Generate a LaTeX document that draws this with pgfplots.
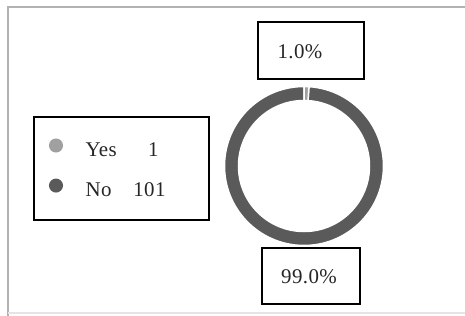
\documentclass[border=0pt]{standalone}
\usepackage{fontspec}
\setmainfont{Liberation Serif}[LetterSpace=2]
\usepackage{pgfplots}
\usepackage{pgfplotstable}
\pgfplotsset{compat=1.18}
\definecolor{nocol}{HTML}{5A5A5A}
\definecolor{yescol}{HTML}{A0A0A0}
\pgfplotstableread{
label value
Yes 1
No 101
}\pietable
\begin{document}
\begin{tikzpicture}
\pgfplotstablegetelem{0}{value}\of\pietable
\pgfmathsetmacro\vyes{\pgfplotsretval}
\pgfplotstablegetelem{1}{value}\of\pietable
\pgfmathsetmacro\vno{\pgfplotsretval}
\pgfmathsetmacro\ayes{360*\vyes/(\vyes+\vno)}
\pgfmathsetmacro\eyes{90-\ayes}
\def\cx{304}\def\cy{150}\def\ro{79.5}\def\ri{65.5}
\begin{axis}[
  x=1bp, y=1bp, xmin=0, xmax=465, ymin=0, ymax=316,
  hide axis, clip=false, at={(0,0)}, anchor=origin,
  legend style={at={(axis cs:33,200)}, anchor=north west,
    draw=black, line width=2bp, fill=white,
    inner xsep=15bp, inner ysep=21.5bp, row sep=20.3bp,
    nodes={inner sep=0pt, text=black!85},
    font=\fontsize{21}{23}\selectfont,
    /tikz/every odd column/.append style={column sep=22.5bp}},
  legend cell align=left,
]
% frame
\draw[gray!60, line width=1.5bp] (axis cs:8,0) -- (axis cs:8,309) -- (axis cs:465,309);
\draw[gray!20, line width=1.5bp] (axis cs:8,3) -- (axis cs:465,3);
% donut
\filldraw[fill=nocol, draw=white, line width=1.5bp]
  (axis cs:{\cx+\ro*cos(\eyes)},{\cy+\ro*sin(\eyes)})
  arc[start angle=\eyes, end angle=-270, radius=\ro bp]
  -- (axis cs:{\cx+\ri*cos(-270)},{\cy+\ri*sin(-270)})
  arc[start angle=-270, end angle=\eyes, radius=\ri bp] -- cycle;
\filldraw[fill=yescol, draw=white, line width=1.5bp]
  (axis cs:{\cx+\ro*cos(90)},{\cy+\ro*sin(90)})
  arc[start angle=90, end angle=\eyes, radius=\ro bp]
  -- (axis cs:{\cx+\ri*cos(\eyes)},{\cy+\ri*sin(\eyes)})
  arc[start angle=\eyes, end angle=90, radius=\ri bp] -- cycle;
% labels
\draw[black, line width=2bp, fill=white] (axis cs:258,237) rectangle (axis cs:364,294);
\node[font=\fontsize{21}{23}\selectfont, text=black!85] at (axis cs:300,264) {1.0\%};
\draw[black, line width=2bp, fill=white] (axis cs:262,12) rectangle (axis cs:360,68);
\node[font=\fontsize{21}{23}\selectfont, text=black!85] at (axis cs:309,39) {99.0\%};
% legend
\addlegendimage{legend image code/.code={\fill[yescol] (0bp,4.5bp) circle (6bp);}}
\addlegendentry{\makebox[108.5bp][l]{\makebox[80bp][l]{Yes\hfill 1\hspace{7bp}}\rule[-3bp]{0pt}{18bp}}}
\addlegendimage{legend image code/.code={\fill[nocol] (0bp,4.5bp) circle (6bp);}}
\addlegendentry{\makebox[108.5bp][l]{\makebox[80bp][l]{No\hfill 101}\rule[-3bp]{0pt}{18bp}}}
\end{axis}
\pgfresetboundingbox
\path[use as bounding box] (0,0) rectangle (465bp,316bp);
\end{tikzpicture}
\end{document}
